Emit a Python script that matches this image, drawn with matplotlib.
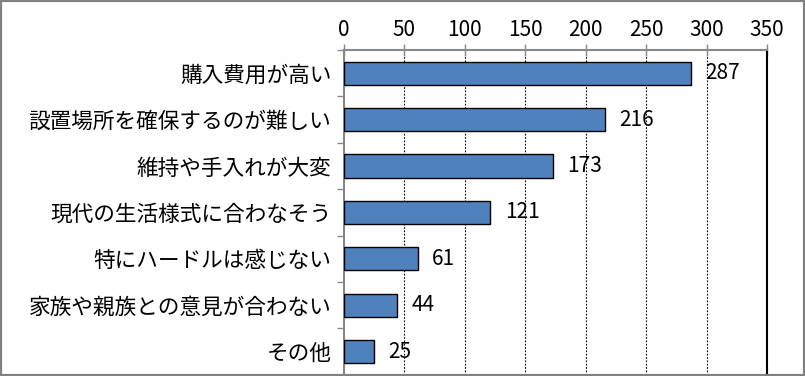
import matplotlib
matplotlib.use("Agg")
import matplotlib.pyplot as plt
from matplotlib.patches import Rectangle
import numpy as np

plt.rcParams['font.family'] = ['Noto Sans CJK JP', 'DejaVu Sans']

categories = ["購入費用が高い", "設置場所を確保するのが難しい", "維持や手入れが大変",
              "現代の生活様式に合わなそう", "特にハードルは感じない",
              "家族や親族との意見が合わない", "その他"]
values = [287, 216, 173, 121, 61, 44, 25]
xticks = [0, 50, 100, 150, 200, 250, 300, 350]

fig = plt.figure(figsize=(8.05, 3.76), dpi=100)
ax = fig.add_axes([0.427, 0.003, 0.526, 0.864])

y = np.arange(len(categories))
ax.barh(y, values, height=0.5, color="#4F81BD", edgecolor="black", linewidth=1.0, zorder=3)
ax.set_ylim(len(categories) - 0.5, -0.5)
ax.set_xlim(0, 350)

ax.xaxis.tick_top()
ax.set_xticks(xticks)
ax.set_xticklabels([str(t) for t in xticks], fontsize=15)
ax.tick_params(axis='x', direction='inout', length=9, width=1, color='#888888', pad=2)

ax.set_yticks(y)
ax.set_yticklabels(categories, fontsize=15.6)
ax.tick_params(axis='y', which='major', length=0, pad=9)
ax.set_yticks(np.arange(len(categories) + 1) - 0.5, minor=True)
ax.tick_params(axis='y', which='minor', length=5, width=1, color='#888888', direction='out')

for t in xticks[1:-1]:
    ax.axvline(t, color='black', linestyle=(0, (1.5, 1.5)), linewidth=0.8, zorder=1)

for s in ['top', 'left']:
    ax.spines[s].set_color('#888888')
    ax.spines[s].set_linewidth(1.5)
ax.spines['right'].set_color('black')
ax.spines['right'].set_linewidth(1.5)
ax.spines['bottom'].set_visible(False)

for yi, v in zip(y, values):
    ax.text(v + 12, yi, str(v), va='center', ha='left', fontsize=15)

fig.patches.append(Rectangle((0, 0), 1, 1, transform=fig.transFigure, fill=False,
                             edgecolor='#808080', linewidth=3))

fig.savefig("out.png", dpi=100)
